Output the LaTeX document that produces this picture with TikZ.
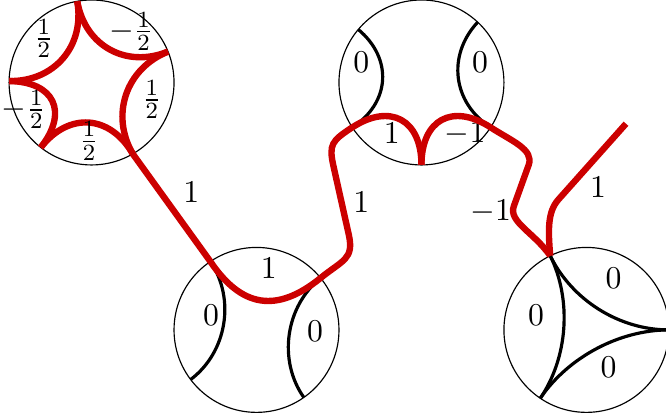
\documentclass[tikz,border=0pt,11pt]{standalone}
\usepackage{amsmath}
\definecolor{webred}{RGB}{204,0,0}
\usetikzlibrary{calc}

\begin{document}
\begin{tikzpicture}[
  disk/.style={draw,thin},
  wred/.style={draw=webred,line width=2.2pt},
  wblk/.style={draw=black,line width=1.1pt},
  lab/.style={inner sep=1pt}
]
  \useasboundingbox (-1.11,-4.055) rectangle (6.965,1);

  % Upper left disk
  \begin{scope}
    \draw[disk] (0,0) coordinate (o1) circle (1);
    \coordinate (a1) at (100:1);
    \coordinate (a2) at (22:1);
    \coordinate (a3) at (-60:1);
    \coordinate (a4) at (232:1);
    \coordinate (a5) at (179:1);
    \draw[wred] (a1) .. controls (100:.45) and (22:.45) .. (a2);
    \draw[wred] (a2) .. controls (22:.45) and (-60:.45) .. (a3);
    \draw[wred] (a3) .. controls (-60:.45) and (232:.45) .. (a4);
    \draw[wred] (a4) .. controls (232:.45) and (179:.45) .. (a5);
    \draw[wred] (a5) .. controls (179:.45) and (100:.45) .. (a1);
    \node[lab] (h1) at (-0.58,0.53) {$\frac{1}{2}$};
    \node[lab] (h2) at (0.48,0.62) {$-\frac{1}{2}$};
    \node[lab] (h3) at (0.73,-0.21) {$\frac{1}{2}$};
    \node[lab] (h4) at (-0.03,-0.71) {$\frac{1}{2}$};
    \node[lab] (h5) at (-0.82,-0.33) {$-\frac{1}{2}$};
  \end{scope}

  % Upper right disk
  \begin{scope}[shift={(4,0)}]
    \draw[disk] (0,0) coordinate (o2) circle (1);
    \coordinate (b1) at (140:1);
    \coordinate (b2) at (213:1);
    \coordinate (b3) at (270:1);
    \coordinate (b4) at (327:1);
    \coordinate (b5) at (47:1);
    \draw[wblk] (b1) .. controls (140:.45) and (213:.45) .. (b2);
    \draw[wblk] (b5) .. controls (47:.45) and (-33:.45) .. (b4);
    \node[lab] (u1) at (-0.73,0.24) {$0$};
    \node[lab] (u2) at (0.71,0.24) {$0$};
    \node[lab] (u3) at (-0.36,-0.62) {$1$};
    \node[lab] (u4) at (0.53,-0.62) {$-1$};
  \end{scope}

  % Lower left disk
  \begin{scope}[shift={(2,-3)}]
    \draw[disk] (0,0) coordinate (o3) circle (1);
    \coordinate (c1) at (124:1);
    \coordinate (c2) at (39:1);
    \coordinate (c3) at (-55:1);
    \coordinate (c4) at (217:1);
    \draw[wblk] (c1) .. controls (124:.45) and (217:.45) .. (c4);
    \draw[wblk] (c2) .. controls (39:.45) and (-55:.45) .. (c3);
    \node[lab] (v1) at (0.15,0.75) {$1$};
    \node[lab] (v2) at (-0.55,0.18) {$0$};
    \node[lab] (v3) at (0.71,-0.02) {$0$};
  \end{scope}

  % Lower right disk
  \begin{scope}[shift={(6,-3)}]
    \draw[disk] (0,0) coordinate (o4) circle (1);
    \coordinate (d1) at (116:1);
    \coordinate (d2) at (0:1);
    \coordinate (d3) at (236:1);
    \draw[wblk] (d1) .. controls (116:.4) and (0:.4) .. (d2);
    \draw[wblk] (d2) .. controls (0:.4) and (236:.4) .. (d3);
    \draw[wblk] (d3) .. controls (236:.4) and (116:.4) .. (d1);
    \node[lab] (w1) at (0.33,0.63) {$0$};
    \node[lab] (w2) at (-0.61,0.18) {$0$};
    \node[lab] (w3) at (0.27,-0.455) {$0$};
  \end{scope}

  % Red strands between the disks
  \coordinate (tip) at (6.48,-0.5);
  \draw[wred] (a3) -- (c1) .. controls +(-56:.68) and +(219:.68) .. (c2)
    .. controls +(39:.35) and +(-78:.3) .. (3.12,-1.85) -- (2.93,-1.0)
    .. controls +(102:.25) and +(213:.3) .. (b2)
    .. controls +(33:.55) and +(90:.55) .. (b3);
  \draw[wred] (b3) .. controls +(90:.55) and +(147:.55) .. (b4)
    .. controls +(-33:.3) and +(70:.2) .. (5.3,-1.0) -- (5.12,-1.5)
    .. controls +(-110:.2) and +(125:.35) .. (d1);
  \draw[wred] (d1) .. controls +(95:.3) and +(228:.2) .. (5.66,-1.42) -- (tip);

  \node[lab] (s1) at (1.21,-1.33) {$1$};
  \node[lab] (s2) at (3.27,-1.45) {$1$};
  \node[lab] (s3) at (4.84,-1.57) {$-1$};
  \node[lab] (s4) at (6.14,-1.27) {$1$};
\end{tikzpicture}
\end{document}
